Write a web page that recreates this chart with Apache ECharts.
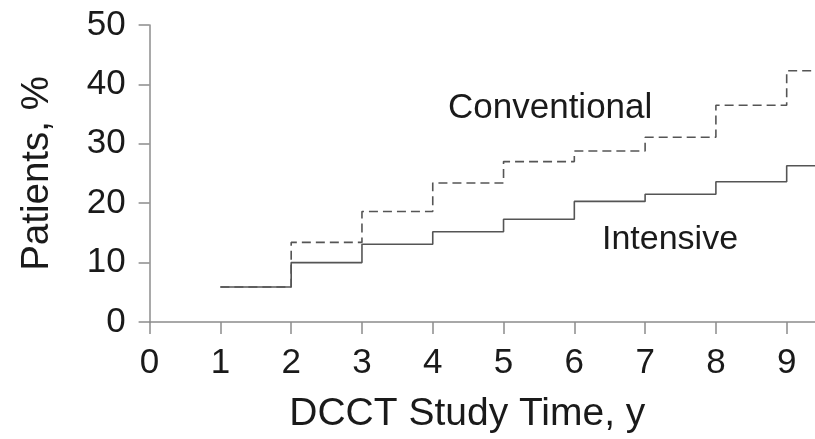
<!DOCTYPE html>
<html>
<head>
<meta charset="utf-8">
<script src="https://cdn.jsdelivr.net/npm/echarts@6/dist/echarts.min.js"></script>
<style>
html,body{margin:0;padding:0;background:#fff;}
#chart{width:815px;height:439px;}
</style>
</head>
<body>
<div id="chart"></div>
<script>
// Data
var times = [1, 2, 3, 4, 5, 6, 7, 8, 9, 9.4];
var conventional = [5.9, 13.4, 18.6, 23.4, 27.0, 28.8, 31.1, 36.5, 42.3, 42.3];
var intensive = [5.9, 10.0, 13.1, 15.2, 17.3, 20.3, 21.5, 23.6, 26.3, 26.3];
var xTicks = [0, 1, 2, 3, 4, 5, 6, 7, 8, 9];
var yTicks = [0, 10, 20, 30, 40, 50];
var seriesNames = ['Conventional', 'Intensive'];
var xTitle = 'DCCT Study Time, y';
var yTitle = 'Patients, %';

function pairs(xs, ys) { return xs.map(function (x, i) { return [x, ys[i]]; }); }

var FONT = '"Liberation Sans", Arial, Helvetica, sans-serif';
var TXT = '#1a1a1a';
var AX = '#8c8c8c';
var chart = echarts.init(document.getElementById('chart'));
chart.setOption({
  animation: false,
  backgroundColor: '#ffffff',
  grid: { left: 149.6, right: 0, top: 25, bottom: 117, containLabel: false },
  xAxis: {
    type: 'value', min: 0, max: 9.4,
    name: xTitle, nameLocation: 'middle', nameGap: 73,
    nameTextStyle: { fontFamily: FONT, fontSize: 39, color: TXT, padding: [0, 30, 0, 0] },
    axisLine: { show: true, lineStyle: { color: AX, width: 1.5 } },
    axisTick: { show: true, customValues: xTicks, length: 12, lineStyle: { color: AX, width: 1.5 } },
    axisLabel: { customValues: xTicks, margin: 24, fontFamily: FONT, fontSize: 35, color: TXT },
    splitLine: { show: false }
  },
  yAxis: {
    type: 'value', min: 0, max: 50,
    name: yTitle, nameLocation: 'middle', nameGap: 93, nameRotate: 90,
    nameTextStyle: { fontFamily: FONT, fontSize: 38.5, color: TXT },
    axisLine: { show: true, onZero: true, lineStyle: { color: AX, width: 1.5 } },
    axisTick: { show: true, customValues: yTicks, length: 11, lineStyle: { color: AX, width: 1.5 } },
    axisLabel: { customValues: yTicks, margin: 24, fontFamily: FONT, fontSize: 35, color: TXT },
    splitLine: { show: false }
  },
  series: [
    {
      name: seriesNames[0], type: 'line', step: 'end', data: pairs(times, conventional),
      symbol: 'none', lineStyle: { color: '#555', width: 1.6, type: [9, 5] }, z: 3
    },
    {
      name: seriesNames[1], type: 'line', step: 'end', data: pairs(times, intensive),
      symbol: 'none', lineStyle: { color: '#555', width: 1.6, type: 'solid' }, z: 2
    }
  ],
  graphic: [
    { type: 'text', left: 448, top: 91, style: { text: seriesNames[0], fontFamily: FONT, fontSize: 35, fill: TXT } },
    { type: 'text', left: 602, top: 223, style: { text: seriesNames[1], fontFamily: FONT, fontSize: 34, fill: TXT } }
  ]
});
</script>
</body>
</html>
